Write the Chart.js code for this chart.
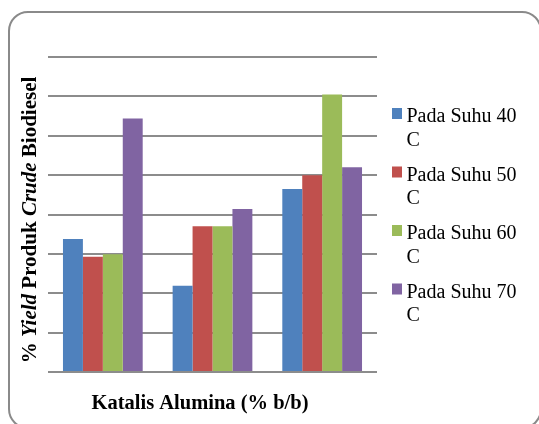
<!DOCTYPE html>
<html>
<head>
<meta charset="utf-8">
<script src="https://cdn.jsdelivr.net/npm/chart.js@4.4.1/dist/chart.umd.min.js"></script>
<style>
  html, body { margin: 0; padding: 0; background: #fff; overflow: hidden; }
  #wrap { position: relative; width: 539px; height: 424px; overflow: hidden; }
  #frame { position: absolute; left: 8px; top: 11px; width: 530px; height: 414px;
           border: 2px solid #8a8a8a; border-radius: 20px; box-sizing: content-box; }
  canvas { position: absolute; left: 0; top: 0; }
</style>
</head>
<body>
<div id="wrap">
  <div id="frame"></div>
  <canvas id="c" width="539" height="424"></canvas>
</div>
<script>
const categories = ['1', '2', '3'];
const seriesNames = ['Pada Suhu 40', 'Pada Suhu 50', 'Pada Suhu 60', 'Pada Suhu 70'];
const seriesUnit = 'C';
const suhu40 = [33.8, 21.9, 46.5];
const suhu50 = [29.3, 37.0, 50.0];
const suhu60 = [29.9, 37.0, 70.5];
const suhu70 = [64.4, 41.4, 52.0];
const colors = ['#4F81BD', '#C0504D', '#9BBB59', '#8064A2'];
const yMin = 0, yMax = 80, yStep = 10;
const xTitle = 'Katalis Alumina (% b/b)';
const yTitleParts = [
  { t: '% ', italic: false },
  { t: 'Yield', italic: true },
  { t: ' Produk ', italic: false },
  { t: 'Crude', italic: true },
  { t: ' Biodiesel', italic: false }
];

const FONT = '"Liberation Serif", "Times New Roman", serif';

const textPlugin = {
  id: 'textPlugin',
  afterDraw(chart) {
    const ctx = chart.ctx;
    ctx.save();
    ctx.fillStyle = '#000';
    // x title
    ctx.font = 'bold 20.5px ' + FONT;
    ctx.textAlign = 'center';
    ctx.textBaseline = 'alphabetic';
    ctx.fillText(xTitle, 200, 409);
    // y title (rich)
    ctx.translate(36, 220);
    ctx.rotate(-Math.PI / 2);
    const fs = 'bold 21px ' + FONT;
    let total = 0;
    const widths = yTitleParts.map(p => {
      ctx.font = (p.italic ? 'italic ' : '') + fs;
      const w = ctx.measureText(p.t).width;
      total += w;
      return w;
    });
    let x = -total / 2;
    ctx.textAlign = 'left';
    yTitleParts.forEach((p, i) => {
      ctx.font = (p.italic ? 'italic ' : '') + fs;
      ctx.fillText(p.t, x, 0);
      x += widths[i];
    });
    ctx.restore();

    // legend
    ctx.save();
    ctx.font = '20px ' + FONT;
    ctx.textAlign = 'left';
    ctx.textBaseline = 'alphabetic';
    seriesNames.forEach((name, i) => {
      const y0 = 122 + i * 58.5;
      ctx.fillStyle = colors[i];
      ctx.fillRect(392, y0 - 14, 10, 11);
      ctx.fillStyle = '#000';
      ctx.fillText(name, 406.5, y0);
      ctx.fillText(seriesUnit, 406.5, y0 + 23.5);
    });
    ctx.restore();
  }
};

const datasets = [suhu40, suhu50, suhu60, suhu70].map((d, i) => ({
  label: seriesNames[i] + ' ' + seriesUnit,
  data: d,
  backgroundColor: colors[i],
  borderWidth: 0,
  barPercentage: 1.0,
  categoryPercentage: 0.727
}));

new Chart(document.getElementById('c'), {
  type: 'bar',
  data: { labels: categories, datasets },
  options: {
    responsive: false,
    animation: false,
    devicePixelRatio: 1,
    layout: { padding: { left: 48, right: 162, top: 57, bottom: 52 } },
    plugins: { legend: { display: false }, tooltip: { enabled: false } },
    scales: {
      x: {
        display: true,
        grid: { display: false, drawTicks: false },
        border: { display: false },
        ticks: { display: false }
      },
      y: {
        min: yMin, max: yMax,
        ticks: { display: false, stepSize: yStep },
        grid: { color: '#8c8c8c', lineWidth: 2, drawTicks: false },
        border: { display: false }
      }
    }
  },
  plugins: [textPlugin]
});
</script>
</body>
</html>
